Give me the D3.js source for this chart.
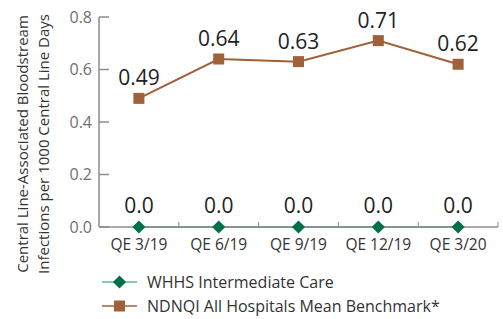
<head>
<meta charset="utf-8">
<style>
  body { margin: 0; background: #fff; }
  text { font-family: "Open Sans", sans-serif; }
</style>
<script src="https://d3js.org/d3.v7.min.js"></script>
</head>
<body>
<div id="chart"></div>
<script>
const categories = ["QE 3/19", "QE 6/19", "QE 9/19", "QE 12/19", "QE 3/20"];
const whhs = [0.0, 0.0, 0.0, 0.0, 0.0];
const ndnqi = [0.49, 0.64, 0.63, 0.71, 0.62];
const yTicks = [0.0, 0.2, 0.4, 0.6, 0.8];

const width = 503, height = 319;
const margin = { left: 99, right: 5, top: 17, bottom: 92 };

const svg = d3.select("#chart").append("svg")
    .attr("width", width)
    .attr("height", height);

const x = d3.scaleBand()
    .domain(categories)
    .range([margin.left, width - margin.right]);

const y = d3.scaleLinear()
    .domain([0, 0.8])
    .range([height - margin.bottom, margin.top]);

const axisColor = "#8c8c8c";
const green = "#00704a";
const greenLine = "#5fb89b";
const brown = "#a0603a";

// green series line (sits under the axis)
const line = d3.line()
    .x((d, i) => x(categories[i]) + x.bandwidth() / 2)
    .y(d => y(d));

svg.append("path")
    .datum(whhs)
    .attr("fill", "none")
    .attr("stroke", greenLine)
    .attr("stroke-width", 2)
    .attr("d", line);

// y axis
svg.append("line")
    .attr("x1", margin.left).attr("x2", margin.left)
    .attr("y1", y(0.8)).attr("y2", y(0))
    .attr("stroke", axisColor).attr("stroke-width", 1.5);

svg.selectAll(".ytick")
    .data(yTicks)
    .enter().append("line")
    .attr("x1", margin.left).attr("x2", margin.left + 10)
    .attr("y1", d => y(d)).attr("y2", d => y(d))
    .attr("stroke", axisColor).attr("stroke-width", 1.5);

svg.selectAll(".ylab")
    .data(yTicks)
    .enter().append("text")
    .attr("x", margin.left - 7)
    .attr("y", d => y(d) + 5.5)
    .attr("text-anchor", "end")
    .attr("font-size", 16)
    .attr("fill", "#707070")
    .text(d => d.toFixed(1));

// x axis
svg.append("line")
    .attr("x1", margin.left).attr("x2", width - margin.right)
    .attr("y1", y(0)).attr("y2", y(0))
    .attr("stroke", axisColor).attr("stroke-width", 1.5);

const bounds = categories.map(c => x(c)).concat([x.range()[1]]);
svg.selectAll(".xtick")
    .data(bounds.slice(1))
    .enter().append("line")
    .attr("x1", d => d).attr("x2", d => d)
    .attr("y1", y(0)).attr("y2", y(0) - 5)
    .attr("stroke", axisColor).attr("stroke-width", 1);

svg.selectAll(".xlab")
    .data(categories)
    .enter().append("text")
    .attr("x", d => x(d) + x.bandwidth() / 2)
    .attr("y", y(0) + 23)
    .attr("text-anchor", "middle")
    .attr("font-size", 15.5)
    .attr("fill", "#333")
    .text(d => d);

// y title
const yTitle = svg.append("text")
    .attr("transform", `translate(28,144) rotate(-90)`)
    .attr("text-anchor", "middle")
    .attr("font-size", 15)
    .attr("fill", "#333");
yTitle.append("tspan").attr("x", 0).attr("y", 0).text("Central Line-Associated Bloodstream");
yTitle.append("tspan").attr("x", 0).attr("y", 21).text("Infections per 1000 Central Line Days");

// brown series
svg.append("path")
    .datum(ndnqi)
    .attr("fill", "none")
    .attr("stroke", brown)
    .attr("stroke-width", 2)
    .attr("d", line);

svg.selectAll(".sq")
    .data(ndnqi)
    .enter().append("rect")
    .attr("x", (d, i) => x(categories[i]) + x.bandwidth() / 2 - 5.5)
    .attr("y", d => y(d) - 5.5)
    .attr("width", 11).attr("height", 11)
    .attr("fill", brown);

svg.selectAll(".dia")
    .data(whhs)
    .enter().append("path")
    .attr("d", d3.symbol().type(d3.symbolDiamond2).size(110))
    .attr("transform", (d, i) => `translate(${x(categories[i]) + x.bandwidth() / 2},${y(d)})`)
    .attr("fill", green);

// value labels
svg.selectAll(".vb")
    .data(ndnqi)
    .enter().append("text")
    .attr("x", (d, i) => x(categories[i]) + x.bandwidth() / 2)
    .attr("y", d => y(d) - 13)
    .attr("text-anchor", "middle")
    .attr("font-size", 21)
    .attr("fill", "#222")
    .text(d => d.toFixed(2));

svg.selectAll(".vg")
    .data(whhs)
    .enter().append("text")
    .attr("x", (d, i) => x(categories[i]) + x.bandwidth() / 2)
    .attr("y", d => y(d) - 14)
    .attr("text-anchor", "middle")
    .attr("font-size", 21)
    .attr("fill", "#222")
    .text(d => d.toFixed(1));

// legend
const legend = [
  { name: "WHHS Intermediate Care", color: green, lineColor: greenLine, shape: "diamond" },
  { name: "NDNQI All Hospitals Mean Benchmark*", color: brown, lineColor: brown, shape: "square" }
];
const lg = svg.selectAll(".lg")
    .data(legend)
    .enter().append("g")
    .attr("transform", (d, i) => `translate(102,${282 + i * 24})`);

lg.append("line")
    .attr("x1", 0).attr("x2", 35)
    .attr("stroke", d => d.lineColor).attr("stroke-width", 1.5);

lg.append("path")
    .attr("d", d => d.shape === "diamond"
        ? d3.symbol().type(d3.symbolDiamond2).size(110)()
        : "M-5.5,-5.5h11v11h-11z")
    .attr("transform", "translate(17.5,0)")
    .attr("fill", d => d.color);

lg.append("text")
    .attr("x", 45)
    .attr("y", 5.5)
    .attr("font-size", 16)
    .attr("fill", "#333")
    .text(d => d.name);
</script>
</body>
